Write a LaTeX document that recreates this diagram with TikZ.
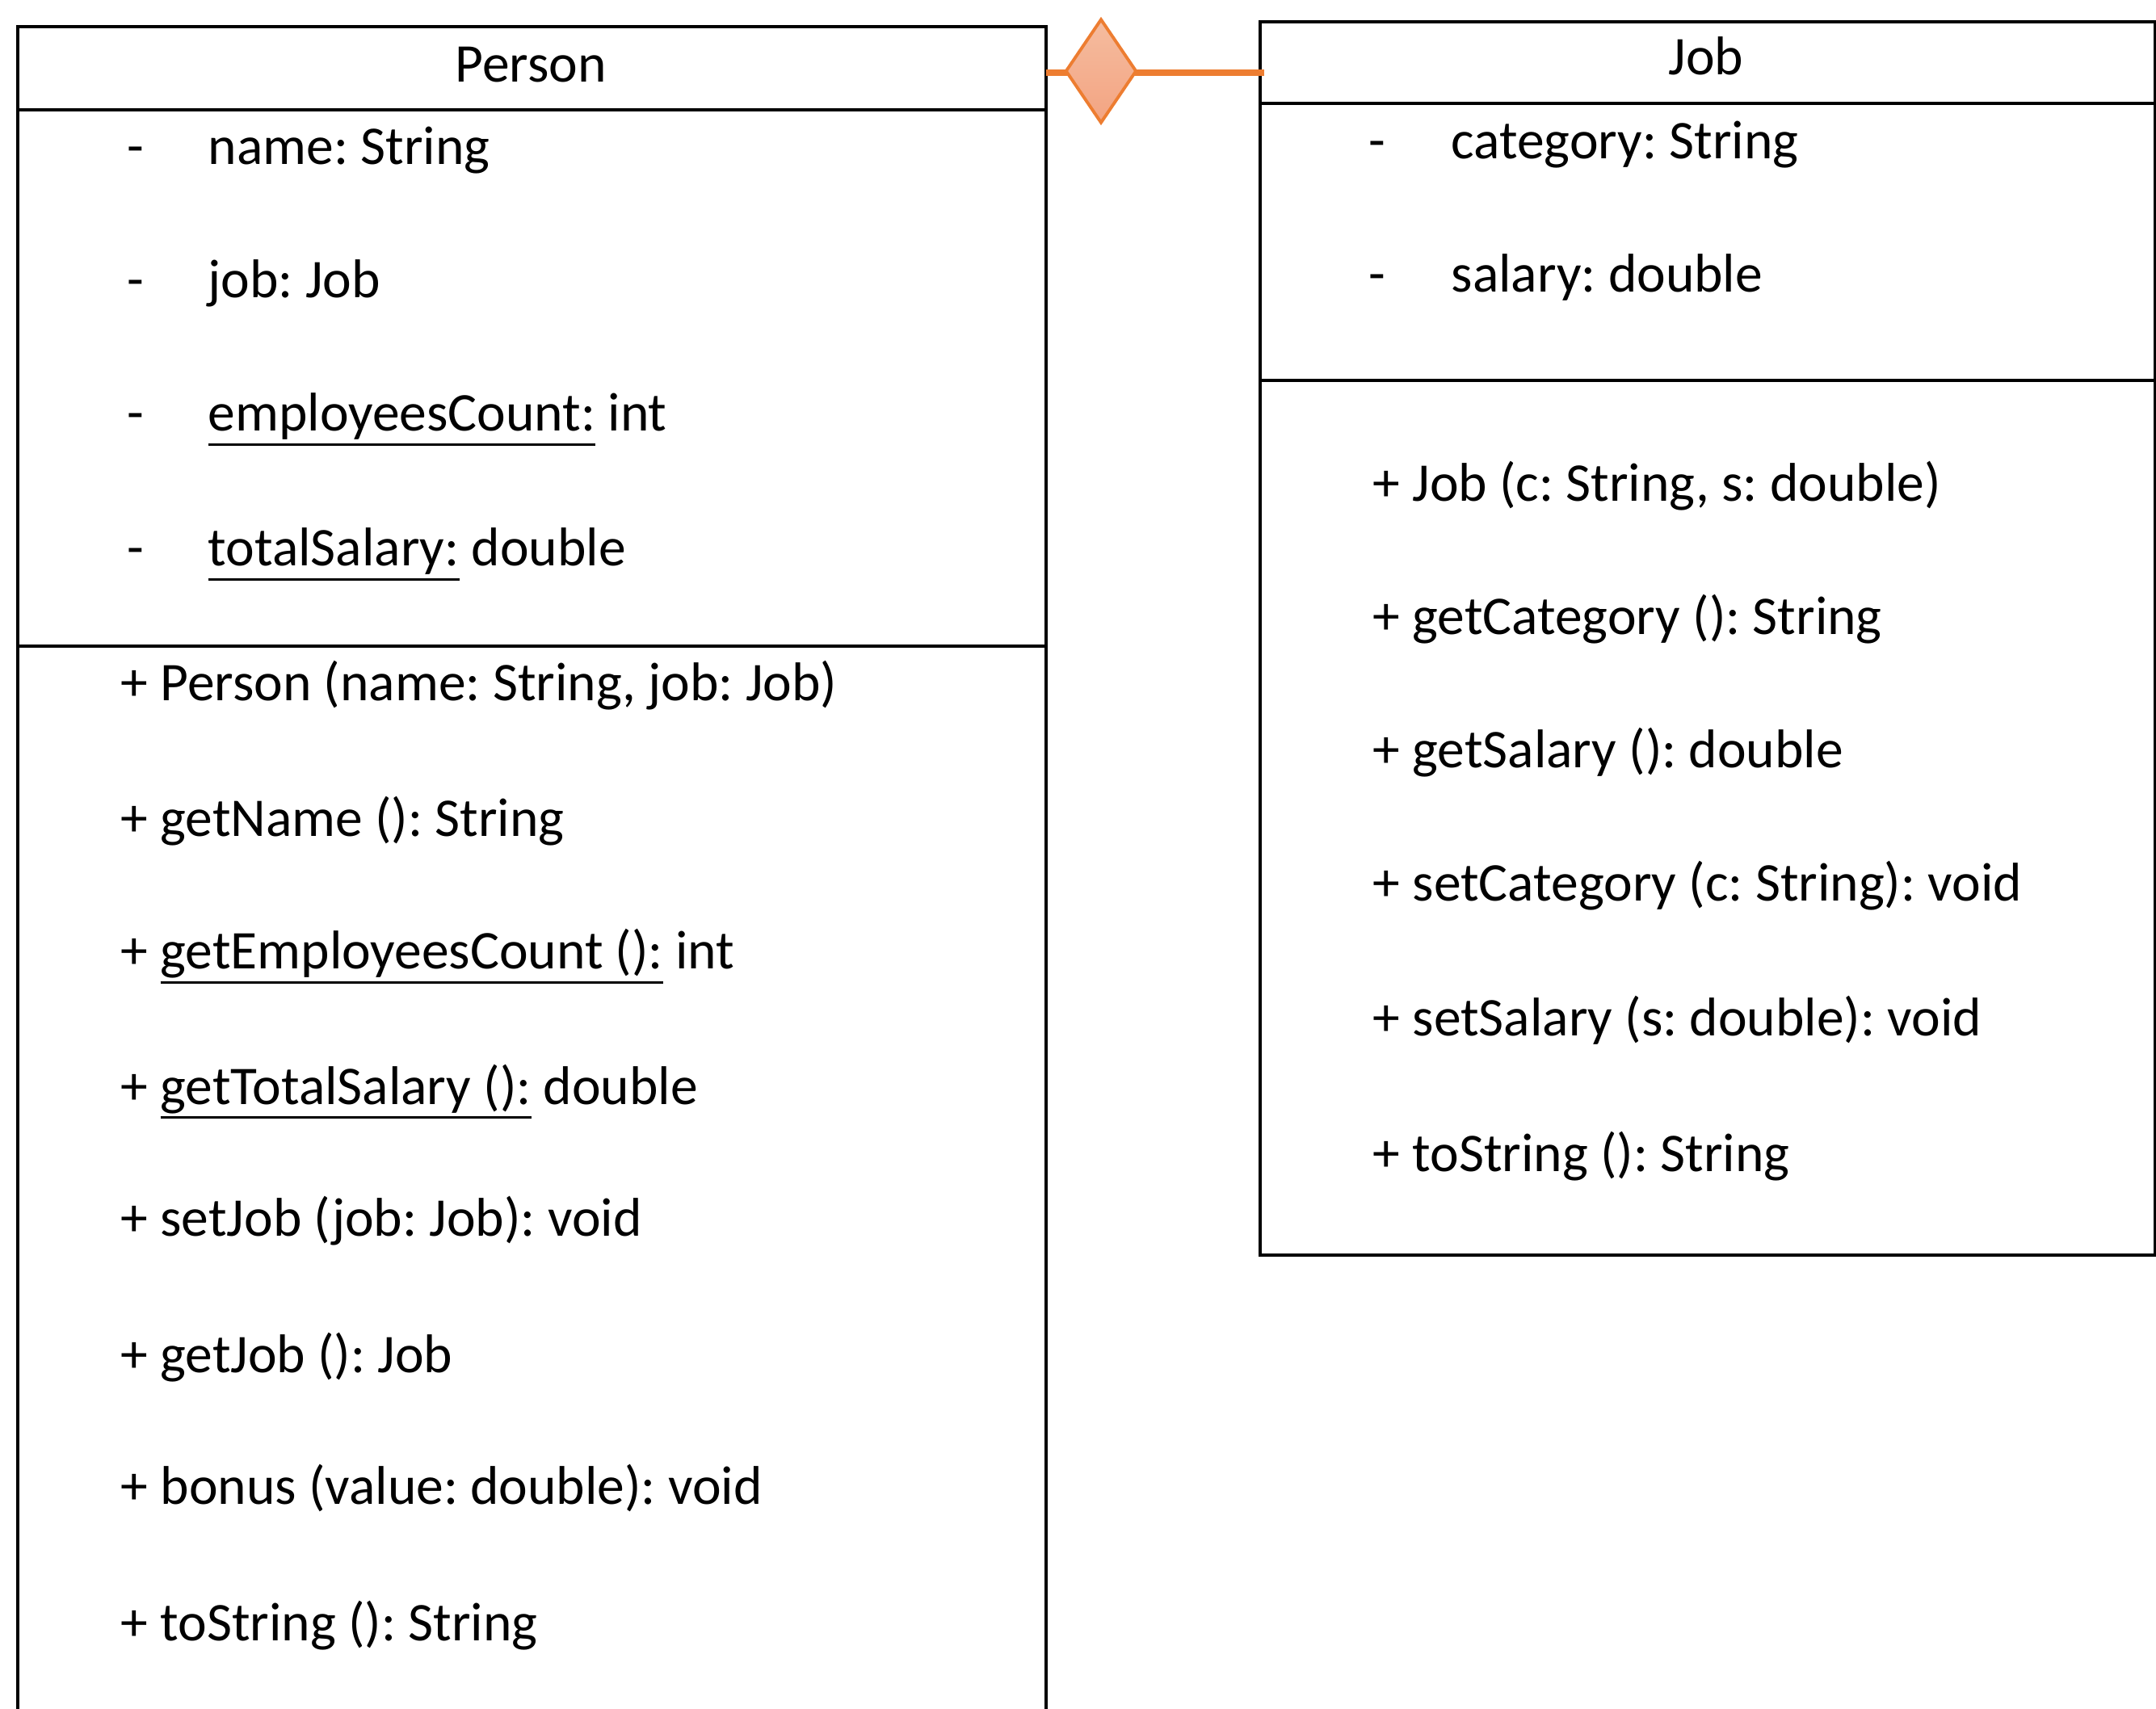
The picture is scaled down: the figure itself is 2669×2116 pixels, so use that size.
\documentclass[tikz,border=0pt]{standalone}
\usepackage{fontspec}
\setmainfont{Carlito}
\usetikzlibrary{shapes.geometric}
\definecolor{linkorange}{HTML}{ED7D31}
\definecolor{diatop}{HTML}{F5BC9F}
\definecolor{diabot}{HTML}{F3A482}
% underline drawn just below the descenders
\newcommand\ulined[1]{\setbox0\hbox{#1}\rlap{\rule[-0.27em]{\wd0}{0.05em}}\box0\relax}
\frenchspacing
\begin{document}
\begin{tikzpicture}[x=0.01cm,y=-0.01cm,
  frame/.style={draw=black, line width=1.15pt},
  member/.style={anchor=base west, inner sep=0pt, font=\fontsize{19.2}{23}\selectfont},
  title/.style={anchor=base, inner sep=0pt, font=\fontsize{19.2}{23}\selectfont},
  link/.style={draw=linkorange, line width=2.3pt},
  aggdiamond/.style={diamond, draw=linkorange, line width=1.1pt, top color=diatop,
    bottom color=diabot, inner sep=0pt, minimum width=0.88cm, minimum height=1.29cm}]
\useasboundingbox (0,0) rectangle (2669,2116);

% class boxes
\node[rectangle, draw=none, inner sep=0pt, anchor=north west,
  minimum width=12.71cm, minimum height=21.0cm] (person) at (22,33) {};
\node[rectangle, frame, inner sep=0pt, anchor=north west,
  minimum width=11.07cm, minimum height=15.26cm] (job) at (1558,25) {};

% Person: open at the bottom
\draw[frame] (person.south west) -- (person.north west) -- (person.north east) -- (person.south east);
\draw[frame] (person.west |- 0,136) -- (person.east |- 0,136);
\draw[frame] (person.west |- 0,800) -- (person.east |- 0,800);

% Job compartments
\draw[frame] (job.west |- 0,128) -- (job.east |- 0,128);
\draw[frame] (job.west |- 0,471) -- (job.east |- 0,471);

% composition link
\coordinate (pend) at (person.east |- 0,90);
\coordinate (jend) at (1565,90);
\draw[link] (pend) -- (jend);
\node[aggdiamond] (agg) at (1363,88) {};

% Person texts
\node[title] (pname) at (657,102) {Person};
\node[member] (pa1d) at (157,204) {-};
\node[member] (pa1) at (257,204) {name: String};
\node[member] (pa2d) at (157,369) {-};
\node[member] (pa2) at (257,369) {job: Job};
\node[member] (pa3d) at (157,534) {-};
\node[member] (pa3) at (257,534) {\ulined{employeesCount:} int};
\node[member] (pa4d) at (157,701) {-};
\node[member] (pa4) at (257,701) {\ulined{totalSalary:} double};

\node[member] (pm1) at (149,868) {+ Person (name: String, job: Job)};
\node[member] (pm2) at (149,1036) {+ getName (): String};
\node[member] (pm3) at (149,1200) {+ \ulined{getEmployeesCount ():} int};
\node[member] (pm4) at (149,1367) {+ \ulined{getTotalSalary ():} double};
\node[member] (pm5) at (149,1530) {+ setJob (job: Job): void};
\node[member] (pm6) at (149,1699) {+ getJob (): Job};
\node[member] (pm7) at (149,1862) {+ bonus (value: double): void};
\node[member] (pm8) at (149,2031) {+ toString (): String};

% Job texts
\node[title] (jname) at (2112,93) {Job};
\node[member] (ja1d) at (1694,197) {-};
\node[member] (ja1) at (1796,197) {category: String};
\node[member] (ja2d) at (1694,362) {-};
\node[member] (ja2) at (1796,362) {salary: double};

\node[member] (jm1) at (1699,621) {+ Job (c: String, s: double)};
\node[member] (jm2) at (1699,786) {+ getCategory (): String};
\node[member] (jm3) at (1699,951) {+ getSalary (): double};
\node[member] (jm4) at (1699,1116) {+ setCategory (c: String): void};
\node[member] (jm5) at (1699,1283) {+ setSalary (s: double): void};
\node[member] (jm6) at (1699,1450) {+ toString (): String};
\end{tikzpicture}
\end{document}
